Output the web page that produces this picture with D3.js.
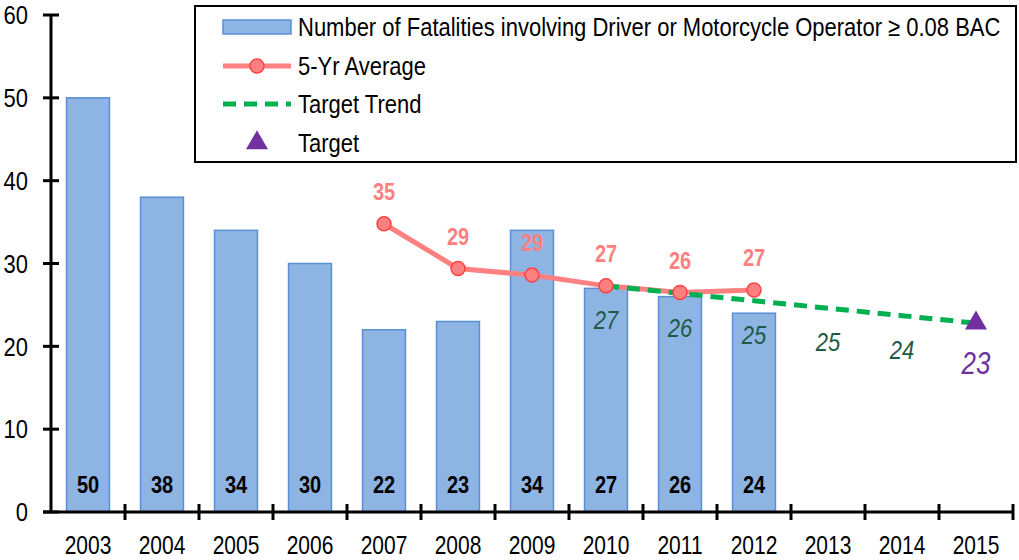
<!DOCTYPE html>
<html>
<head>
<meta charset="utf-8">
<script src="https://cdn.jsdelivr.net/npm/d3@7"></script>
<style>
  body { margin: 0; background: #fff; }
  text { font-family: "Liberation Sans", Arial, sans-serif; }
</style>
</head>
<body>
<div id="chart"></div>
<script>
// data
let years = ["2003","2004","2005","2006","2007","2008","2009","2010","2011","2012","2013","2014","2015"],
    fatalities = [50, 38, 34, 30, 22, 23, 34, 27, 26, 24],
    avgYears = ["2007","2008","2009","2010","2011","2012"],
    avgValues = [34.8, 29.4, 28.6, 27.3, 26.5, 26.8],
    avgLabels = ["35","29","29","27","26","27"],
    trendYears = ["2010","2011","2012","2013","2014","2015"],
    trendValues = [27.3, 26.4, 25.5, 24.6, 23.7, 22.8],
    trendLabels = ["27","26","25","25","24","23"],
    targetYear = "2015",
    targetValue = 22.8,
    yTicks = [0, 10, 20, 30, 40, 50, 60]

let width = 1019, height = 560,
    stretch = 1.2   // the text in the picture is a bit taller than it is wide
let svg = d3.select("#chart").append("svg")
    .attr("width", width)
    .attr("height", height)

let x = d3.scaleBand().domain(years).range([51, 1013]).paddingInner(0.42).paddingOuter(0.21)
let xc = d => x(d) + x.bandwidth() / 2
let y = d3.scaleLinear().domain([0, 60]).range([512, 15])

// put a text at (px,py), vertically centred and stretched
function place(sel, px, py){
    sel.attr("x", 0).attr("y", 0).attr("dy", "0.35em")
        .attr("transform", function(d, i){
            let tx = typeof px === "function" ? px(d, i) : px
            let ty = typeof py === "function" ? py(d, i) : py
            return "translate(" + tx + "," + ty + ") scale(1," + stretch + ")"
        })
    return sel
}

//BARS
svg.append("g").selectAll("rect")
    .data(fatalities)
    .enter().append("rect")
    .attr("x", (d, i) => x(years[i]))
    .attr("y", d => y(d))
    .attr("width", x.bandwidth())
    .attr("height", d => y(0) - y(d))
    .attr("fill", "#8eb4e3")
    .attr("stroke", "#5b8fd6")
    .attr("stroke-width", 1.5)

place(svg.append("g").selectAll("text")
    .data(fatalities)
    .enter().append("text"), (d, i) => xc(years[i]), y(0) - 27)
    .attr("text-anchor", "middle")
    .attr("font-size", 20)
    .attr("font-weight", "bold")
    .text(d => d)

//AXES
svg.append("line").attr("x1", 51).attr("x2", 51).attr("y1", y(60)).attr("y2", y(0))
    .attr("stroke", "#000").attr("stroke-width", 3)
svg.append("g").selectAll("line")
    .data(yTicks)
    .enter().append("line")
    .attr("x1", 43).attr("x2", 59)
    .attr("y1", d => y(d)).attr("y2", d => y(d))
    .attr("stroke", "#000").attr("stroke-width", 3)
place(svg.append("g").selectAll("text")
    .data(yTicks)
    .enter().append("text"), 28, d => y(d))
    .attr("text-anchor", "end")
    .attr("font-size", 22)
    .text(d => d)

svg.append("line").attr("x1", 43).attr("x2", 1013).attr("y1", y(0)).attr("y2", y(0))
    .attr("stroke", "#000").attr("stroke-width", 3)
let bounds = years.map(d => x(d) - x.step() * x.paddingInner() / 2).slice(1).concat([1013])
svg.append("g").selectAll("line")
    .data(bounds)
    .enter().append("line")
    .attr("x1", d => d).attr("x2", d => d)
    .attr("y1", y(0) - 8).attr("y2", y(0) + 8)
    .attr("stroke", "#000").attr("stroke-width", 3)
place(svg.append("g").selectAll("text")
    .data(years)
    .enter().append("text"), d => xc(d), 545)
    .attr("text-anchor", "middle")
    .attr("font-size", 21)
    .text(d => d)

//5-YR AVERAGE
let avgLine = d3.line().x((d, i) => xc(avgYears[i])).y(d => y(d))
svg.append("path")
    .datum(avgValues)
    .attr("d", avgLine)
    .attr("fill", "none")
    .attr("stroke", "#ff8080")
    .attr("stroke-width", 5)

//TARGET TREND
let trendLine = d3.line().x((d, i) => xc(trendYears[i])).y(d => y(d))
svg.append("path")
    .datum(trendValues)
    .attr("d", trendLine)
    .attr("fill", "none")
    .attr("stroke", "#00b050")
    .attr("stroke-width", 5)
    .attr("stroke-dasharray", "13,8")

svg.append("g").selectAll("circle")
    .data(avgValues)
    .enter().append("circle")
    .attr("cx", (d, i) => xc(avgYears[i]))
    .attr("cy", d => y(d))
    .attr("r", 7)
    .attr("fill", "#ff8080")
    .attr("stroke", "#ff4343")
    .attr("stroke-width", 1.5)

place(svg.append("g").selectAll("text")
    .data(avgValues)
    .enter().append("text"), (d, i) => xc(avgYears[i]), d => y(d) - 32)
    .attr("text-anchor", "middle")
    .attr("font-size", 20)
    .attr("font-weight", "bold")
    .attr("fill", "#ff8080")
    .text((d, i) => avgLabels[i])

place(svg.append("g").selectAll("text")
    .data(trendValues.slice(0, 5))
    .enter().append("text"), (d, i) => xc(trendYears[i]), d => y(d) + 34)
    .attr("text-anchor", "middle")
    .attr("font-size", 22)
    .attr("font-style", "italic")
    .attr("fill", "#1e5a46")
    .text((d, i) => trendLabels[i])

//TARGET
let tri = d3.symbol().type(d3.symbolTriangle).size(210)
svg.append("path")
    .attr("d", tri)
    .attr("transform", "translate(" + xc(targetYear) + "," + y(targetValue) + ")")
    .attr("fill", "#7030a0")
place(svg.append("text"), xc(targetYear), y(targetValue) + 40)
    .attr("text-anchor", "middle")
    .attr("font-size", 26)
    .attr("font-style", "italic")
    .attr("fill", "#7030a0")
    .text(trendLabels[5])

//LEGEND
let legend = svg.append("g")
legend.append("rect")
    .attr("x", 195).attr("y", 6).attr("width", 821).attr("height", 156)
    .attr("fill", "#fff").attr("stroke", "#000").attr("stroke-width", 2)
let rows = [27, 66, 104, 143]
legend.append("rect").attr("x", 223).attr("y", rows[0] - 7).attr("width", 68).attr("height", 14)
    .attr("fill", "#8eb4e3").attr("stroke", "#5b8fd6").attr("stroke-width", 1.5)
legend.append("line").attr("x1", 223).attr("x2", 291).attr("y1", rows[1]).attr("y2", rows[1])
    .attr("stroke", "#ff8080").attr("stroke-width", 5)
legend.append("circle").attr("cx", 257).attr("cy", rows[1]).attr("r", 7)
    .attr("fill", "#ff8080").attr("stroke", "#ff4343").attr("stroke-width", 1.5)
legend.append("line").attr("x1", 223).attr("x2", 291).attr("y1", rows[2]).attr("y2", rows[2])
    .attr("stroke", "#00b050").attr("stroke-width", 5).attr("stroke-dasharray", "13,8")
legend.append("path").attr("d", tri)
    .attr("transform", "translate(257," + rows[3] + ")")
    .attr("fill", "#7030a0")
let legendText = ["Number of Fatalities involving Driver or Motorcycle Operator \u2265 0.08 BAC",
    "5-Yr Average", "Target Trend", "Target"]
place(legend.selectAll("text.lt")
    .data(legendText)
    .enter().append("text")
    .attr("class", "lt"), 298, (d, i) => rows[i])
    .attr("font-size", 22)
    .text(d => d)
</script>
</body>
</html>
